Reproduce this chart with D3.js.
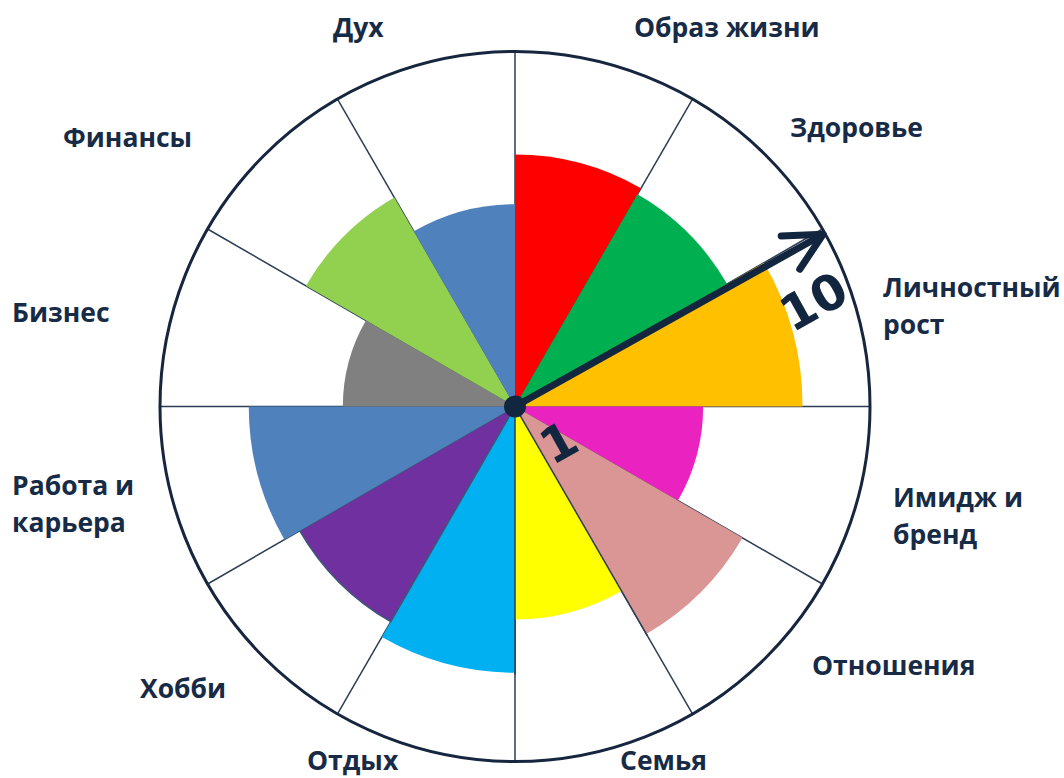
<!DOCTYPE html>
<html>
<head>
<meta charset="utf-8">
<script src="https://cdn.jsdelivr.net/npm/d3@7"></script>
<style>
  body { margin: 0; background: #fff; }
  .label { font-family: "Open Sans", sans-serif; font-weight: 700; font-size: 26.5px; fill: #172b46; }
  .scale-num { font-family: "DejaVu Sans", sans-serif; font-weight: 700; font-size: 49px; fill: #13263f; }
</style>
</head>
<body>
<svg id="chart"></svg>
<script>
// wheel categories, clockwise from 12 o'clock
const categories = [
  ["Образ жизни"], ["Здоровье"], ["Личностный", "рост"], ["Имидж и", "бренд"],
  ["Отношения"], ["Семья"], ["Отдых"], ["Хобби"],
  ["Работа и", "карьера"], ["Бизнес"], ["Финансы"], ["Дух"]
];
const scores = [7.1, 6.9, 8.1, 5.3, 7.4, 6.0, 7.5, 7.0, 7.5, 4.85, 6.8, 5.7];
const sectorColors = ["#ff0000", "#00b050", "#ffc000", "#ea23c0", "#d99694", "#ffff00",
                      "#00b0f0", "#7030a0", "#4f81bd", "#808080", "#92d050", "#4f81bd"];
const scaleLabels = ["1", "10"];

// layout (hand placed, like the original)
const labelPos = [[634, 37], [790, 137], [883, 297], [893, 507], [812, 675], [620, 770],
                  [307, 770], [140, 698], [12, 495], [12, 322], [63, 147], [333, 37]];
const scaleLabelPos = [[559, 443], [814, 302]];
const arrowAngle = 60.8; // degrees from 12 o'clock
const overLines = [5, 6]; // divider lines drawn over the sectors

const width = 1064, height = 778;
const cx = 515, cy = 406.5, R = 355;

const svg = d3.select("#chart").attr("width", width).attr("height", height);
const g = svg.append("g").attr("transform", `translate(${cx},${cy})`);

const rScale = d3.scaleLinear().domain([0, 10]).range([0, R]);
const aScale = d3.scaleLinear().domain([0, categories.length]).range([0, 2 * Math.PI]);

const polar = (r, a) => [r * Math.sin(a), -r * Math.cos(a)];

// divider lines (behind)
const dividers = d3.range(categories.length);
g.selectAll("line.div")
  .data(dividers)
  .join("line")
    .attr("class", "div")
    .attr("x1", 0).attr("y1", 0)
    .attr("x2", d => polar(R, aScale(d))[0])
    .attr("y2", d => polar(R, aScale(d))[1])
    .attr("stroke", "#2c3e55")
    .attr("stroke-width", 1.5);

// sectors
const arc = d3.arc()
  .innerRadius(0)
  .outerRadius(d => rScale(d.v))
  .startAngle(d => aScale(d.i))
  .endAngle(d => aScale(d.i + 1));

g.selectAll("path.sector")
  .data(scores.map((v, i) => ({v, i})))
  .join("path")
    .attr("class", "sector")
    .attr("d", arc)
    .attr("fill", d => sectorColors[d.i])
    .attr("stroke", d => d.i === 7 ? "#3e5576" : "none")
    .attr("stroke-width", 1.5);

// a couple of dividers sit on top of the colour
g.selectAll("line.over")
  .data(overLines)
  .join("line")
    .attr("class", "over")
    .attr("x1", 0).attr("y1", 0)
    .attr("x2", d => polar(rScale(d3.max([scores[d - 1], scores[d % 12]])) + 2, aScale(d))[0])
    .attr("y2", d => polar(rScale(d3.max([scores[d - 1], scores[d % 12]])) + 2, aScale(d))[1])
    .attr("stroke", "#2c3e55")
    .attr("stroke-width", 1.5);

// outer ring
g.append("circle")
  .attr("r", R)
  .attr("fill", "none")
  .attr("stroke", "#17263f")
  .attr("stroke-width", 3);

// arrow from 1 to 10
const aa = arrowAngle * Math.PI / 180;
const tip = polar(rScale(10) - 2, aa);
const back = aa + Math.PI;
const wing = 42, spread = 27 * Math.PI / 180;
const w1 = [tip[0] + wing * Math.sin(back - spread), tip[1] - wing * Math.cos(back - spread)];
const w2 = [tip[0] + wing * Math.sin(back + spread), tip[1] - wing * Math.cos(back + spread)];

g.append("line")
  .attr("x1", 0).attr("y1", 0)
  .attr("x2", tip[0]).attr("y2", tip[1])
  .attr("stroke", "#13263f")
  .attr("stroke-width", 7);

g.append("path")
  .attr("d", d3.line()([w1, tip, w2]))
  .attr("fill", "none")
  .attr("stroke", "#13263f")
  .attr("stroke-width", 7)
  .attr("stroke-linecap", "round")
  .attr("stroke-linejoin", "round");

g.append("circle")
  .attr("r", 11)
  .attr("fill", "#13263f");

// scale numbers along the arrow
svg.selectAll("text.scale-num")
  .data(scaleLabels)
  .join("text")
    .attr("class", "scale-num")
    .attr("text-anchor", "middle")
    .attr("dominant-baseline", "central")
    .attr("transform", (d, i) => `translate(${scaleLabelPos[i][0]},${scaleLabelPos[i][1]}) rotate(${arrowAngle - 90})`)
    .text(d => d);

// category labels
const labels = svg.selectAll("text.label")
  .data(categories)
  .join("text")
    .attr("class", "label")
    .attr("x", (d, i) => labelPos[i][0])
    .attr("y", (d, i) => labelPos[i][1]);

labels.selectAll("tspan")
  .data(d => d)
  .join("tspan")
    .attr("x", function() { return this.parentNode.getAttribute("x"); })
    .attr("dy", (d, j) => j === 0 ? 0 : 37)
    .text(d => d);
</script>
</body>
</html>
